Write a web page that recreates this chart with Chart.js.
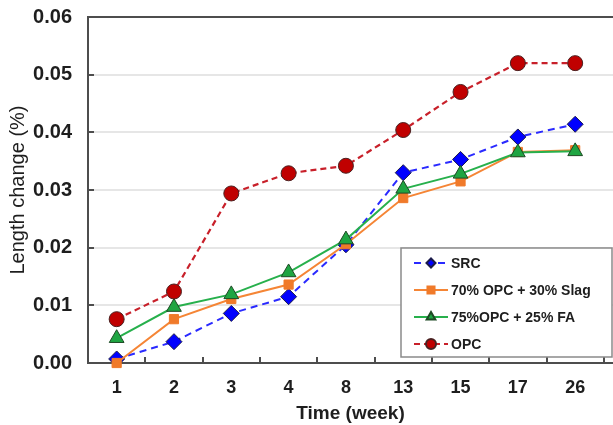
<!DOCTYPE html>
<html>
<head>
<meta charset="utf-8">
<script src="https://cdn.jsdelivr.net/npm/chart.js@4.4.1/dist/chart.umd.min.js"></script>
<style>
html, body { margin: 0; padding: 0; background: #fff; overflow: hidden; }
#wrap { width: 613px; height: 425px; position: relative; }
</style>
</head>
<body>
<div id="wrap"><canvas id="myChart"></canvas></div>
<script>
/* Length change vs time for four mixes */

const weeks = ['1', '2', '3', '4', '8', '13', '15', '17', '26'];
const yTicks = [0, 0.01, 0.02, 0.03, 0.04, 0.05, 0.06];

const src  = [0.0007, 0.0037, 0.0086, 0.0115, 0.0205, 0.0330, 0.0353, 0.0392, 0.0414];
const slag = [0.0000, 0.0076, 0.0111, 0.0136, 0.0206, 0.0286, 0.0315, 0.0366, 0.0369];
const fa   = [0.0043, 0.0097, 0.0119, 0.0157, 0.0214, 0.0302, 0.0328, 0.0365, 0.0367];
const opc  = [0.0076, 0.0124, 0.0294, 0.0329, 0.0342, 0.0404, 0.0470, 0.0520, 0.0520];

const FONT = "'Liberation Sans', Arial, sans-serif";
const TEXT = '#1e1e1e';
const AXIS = '#4d4d4d';

// category index -> x value (1..9) so the linear scale places the points
function toPoints(arr) {
    return arr.map((v, i) => ({ x: i + 1, y: v }));
}

// small inward tick marks + legend drawn inside the plot, Excel style
const framePlugin = {
    id: 'frame',
    afterDraw(chart) {
        const ctx = chart.ctx;
        const area = chart.chartArea;
        const xs = chart.scales.x;
        const ys = chart.scales.y;
        ctx.save();
        ctx.strokeStyle = AXIS;
        ctx.lineWidth = 2;
        // y ticks
        yTicks.forEach(t => {
            const y = Math.round(ys.getPixelForValue(t));
            ctx.beginPath();
            ctx.moveTo(area.left, y);
            ctx.lineTo(area.left + 6, y);
            ctx.stroke();
        });
        // x ticks between categories
        for (let i = 1; i <= weeks.length; i++) {
            const x = Math.round(xs.getPixelForValue(i + 0.5));
            if (x > area.right) break;
            ctx.beginPath();
            ctx.moveTo(x, area.bottom);
            ctx.lineTo(x, area.bottom - 6);
            ctx.stroke();
        }
        ctx.restore();

        // legend
        const bx = area.right - 212, by = area.bottom - 115, bw = 211, bh = 109;
        ctx.save();
        ctx.fillStyle = '#fff';
        ctx.fillRect(bx, by, bw, bh);
        ctx.strokeStyle = '#8a8a8a';
        ctx.lineWidth = 1.5;
        ctx.strokeRect(bx, by, bw, bh);
        ctx.font = 'bold 14px ' + FONT;
        ctx.textBaseline = 'middle';
        chart.data.datasets.forEach((ds, i) => {
            const y = by + 15 + i * 27;
            ctx.strokeStyle = ds.borderColor;
            ctx.lineWidth = 2;
            ctx.setLineDash(ds.borderDash || []);
            ctx.beginPath();
            ctx.moveTo(bx + 13, y);
            ctx.lineTo(bx + 47, y);
            ctx.stroke();
            ctx.setLineDash([]);
            ctx.fillStyle = ds.pointBackgroundColor;
            ctx.strokeStyle = ds.pointBorderColor;
            Chart.helpers.drawPoint(ctx, {
                pointStyle: ds.pointStyle,
                radius: ds.legendRadius,
                rotation: 0,
                borderWidth: 0.8
            }, bx + 30, y);
            ctx.fillStyle = TEXT;
            ctx.fillText(ds.label, bx + 50, y + 1);
        });
        ctx.restore();
    }
};

const myChart = document.getElementById('myChart');

const lineChart = new Chart(myChart, {
    type: 'line',
    data: {
        datasets: [
            {
                label: 'SRC',
                data: toPoints(src),
                borderColor: '#2a2aff',
                borderWidth: 2,
                borderDash: [7, 5],
                pointStyle: 'rectRot',
                pointRadius: 8,
                legendRadius: 4.5,
                pointBackgroundColor: '#0000ff',
                pointBorderColor: '#1a1a4a',
                pointBorderWidth: 1,
                order: 4,
                clip: false,
            },
            {
                label: '70% OPC + 30% Slag',
                data: toPoints(slag),
                borderColor: '#f58535',
                borderWidth: 2,
                pointStyle: 'rect',
                pointRadius: 6.5,
                legendRadius: 5,
                pointBackgroundColor: '#f07a2a',
                pointBorderColor: '#f07a2a',
                pointBorderWidth: 1,
                order: 3,
                clip: false,
            },
            {
                label: '75%OPC + 25% FA',
                data: toPoints(fa),
                borderColor: '#27b04c',
                borderWidth: 2,
                pointStyle: 'triangle',
                pointRadius: 8.5,
                legendRadius: 5,
                pointBackgroundColor: '#1fa542',
                pointBorderColor: '#1e4a25',
                pointBorderWidth: 1,
                order: 2,
                clip: false,
            },
            {
                label: 'OPC',
                data: toPoints(opc),
                borderColor: '#c8202a',
                borderWidth: 2.2,
                borderDash: [6, 4],
                pointStyle: 'circle',
                pointRadius: 7.5,
                legendRadius: 5,
                pointBackgroundColor: '#c00000',
                pointBorderColor: '#4a2020',
                pointBorderWidth: 1,
                order: 1,
                clip: false,
            },
        ]
    },
    options: {
        responsive: true,
        maintainAspectRatio: false,
        animation: false,
        devicePixelRatio: 1,
        layout: {
            autoPadding: false,
            padding: { top: 17, right: 0, left: 0, bottom: 0 }
        },
        scales: {
            x: {
                type: 'linear',
                min: 0.5,
                max: 9.66,
                afterFit: (s) => {
                    s.height = 62;
                    s.paddingLeft = 0;   // no room kept for the end labels
                    s.paddingRight = 0;
                },
                afterBuildTicks: (s) => {
                    s.ticks = weeks.map((w, i) => ({ value: i + 1 }));
                },
                ticks: {
                    autoSkip: false,
                    maxRotation: 0,
                    padding: 14,
                    color: TEXT,
                    font: { family: FONT, size: 18, weight: 'bold' },
                    callback: (v) => weeks[v - 1],
                },
                grid: { drawOnChartArea: false, drawTicks: false },
                border: { display: true, color: AXIS, width: 2 },
                title: {
                    display: true,
                    text: 'Time (week)',
                    color: TEXT,
                    padding: { top: 0, bottom: 0 },
                    font: { family: FONT, size: 19, weight: 'bold' },
                },
            },
            y: {
                min: 0,
                max: 0.06,
                afterFit: (s) => {
                    s.width = 88;
                    s.paddingTop = 0;
                    s.paddingBottom = 0;
                },
                afterBuildTicks: (s) => {
                    s.ticks = yTicks.map(v => ({ value: v }));
                },
                ticks: {
                    padding: 16,
                    color: TEXT,
                    font: { family: FONT, size: 20, weight: 'bold' },
                    callback: (v) => v.toFixed(2),
                },
                grid: {
                    drawTicks: false,
                    lineWidth: 2,
                    color: (c) => (c.tick && (c.tick.value === 0.06 || c.tick.value === 0)) ? AXIS : '#e6e6e6',
                },
                border: { display: true, color: AXIS, width: 2 },
                title: {
                    display: true,
                    text: 'Length change (%)',
                    color: TEXT,
                    padding: { top: 6, bottom: 0 },
                    font: { family: FONT, size: 20 },
                },
            },
        },
        plugins: {
            legend: { display: false },
            tooltip: { enabled: false },
        }
    },
    plugins: [framePlugin],
});
</script>
</body>
</html>
